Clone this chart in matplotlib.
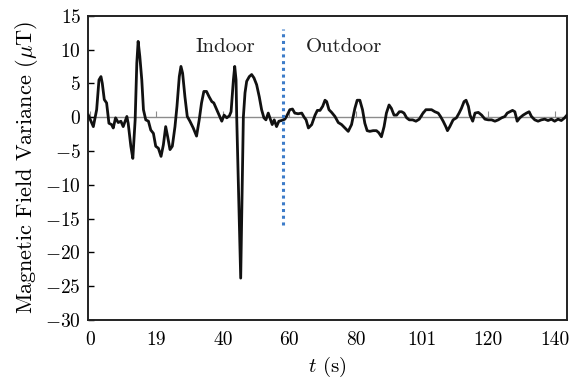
import matplotlib
matplotlib.use("Agg")
import matplotlib.pyplot as plt
import numpy as np

plt.rcParams['font.family'] = ['cmr10', 'DejaVu Serif']
plt.rcParams['mathtext.fontset'] = 'cm'
plt.rcParams['axes.formatter.use_mathtext'] = True
plt.rcParams['axes.unicode_minus'] = True

# time axis positions (evenly spaced tick scale) and field variance (uT)
t_vals = [-0.5, 1.0, 2.0, 2.7, 3.3, 3.7, 4.3, 5.0, 5.7, 6.5, 7.0, 7.7, 8.5, 9.3, 10.0,
          11.1, 11.5, 12.3, 12.9, 13.6, 14.1, 14.5, 15.0, 15.6, 16.1, 16.8, 17.6, 18.3,
          19.1, 19.8, 20.6, 21.4, 22.1, 22.8, 23.4, 24.1, 24.8, 25.6, 26.2, 26.9, 27.4,
          27.9, 28.6, 29.3, 30.1, 31.1, 32.1, 32.9, 33.6, 34.3, 35.1, 35.9, 36.7, 37.3,
          38.2, 38.9, 39.7, 40.4, 41.2, 42.0, 42.5, 43.2, 43.6, 44.0, 44.2, 45.4, 46.2,
          46.7, 47.2, 48.0, 48.7, 49.4, 50.2, 51.0, 51.7, 52.4, 53.0, 53.7, 54.2, 54.9,
          55.5, 56.2, 56.9, 57.7, 58.7, 59.2, 60.2, 61.0, 61.7, 62.7, 63.8, 64.5, 65.1,
          65.8, 66.8, 67.8, 68.5, 69.3, 70.1, 70.8, 71.3, 72.0, 72.8, 73.8, 74.8, 75.8,
          76.8, 77.8, 78.8, 79.8, 80.5, 81.3, 82.1, 82.8, 83.5, 84.3, 85.3, 86.3, 87.0,
          87.8, 88.6, 89.3, 90.1, 90.8, 91.6, 92.4, 93.2, 93.9, 94.6, 95.4, 96.2, 97.2,
          98.2, 99.2, 100.2, 101.2, 102.2, 102.9, 103.9, 104.9, 105.6, 106.4, 107.2, 107.7,
          108.4, 109.4, 110.4, 111.2, 111.9, 112.7, 113.3, 114.0, 114.5, 115.3, 116.0,
          117.0, 118.0, 119.0, 120.0, 121.0, 122.0, 123.0, 124.0, 125.0, 125.7, 126.5,
          127.3, 128.0, 128.7, 129.5, 130.5, 131.5, 132.3, 133.0, 134.0, 135.0, 136.0,
          137.0, 138.0, 139.0, 140.0, 141.0, 142.0, 143.0, 143.7]
b_vals = [0.3, -1.4, 1.1, 5.5, 6.0, 5.0, 2.6, 2.1, -0.9, -1.1, -1.6, -0.1, -0.8, -0.6, -1.4,
          0.1, -0.9, -4.3, -6.1, -0.4, 8.0, 11.2, 9.0, 5.5, 1.1, -0.4, -0.6, -1.9,
          -2.4, -4.3, -4.6, -5.8, -4.1, -1.4, -2.9, -4.8, -4.3, -1.4, 1.6, 6.0, 7.5,
          6.5, 3.0, 0.1, -0.6, -1.6, -2.8, -0.4, 2.1, 3.8, 3.8, 3.0, 2.3, 2.1,
          1.1, 0.3, -0.6, 0.3, -0.1, 0.2, 0.8, 5.5, 7.5, 5.5, 0.0, -23.8, 0.0,
          3.6, 5.3, 6.0, 6.3, 5.8, 4.8, 3.0, 1.1, -0.1, -0.4, 0.6, -0.1, -1.1,
          -0.4, -1.4, -0.6, -0.5, -0.3, 0.1, 1.1, 1.2, 0.6, 0.5, 0.6, 0.0, -0.4,
          -1.6, -1.1, 0.3, 1.0, 1.0, 1.6, 2.5, 2.3, 1.1, 0.7, 0.1, -0.8, -1.1,
          -1.6, -2.1, -1.1, 1.3, 2.5, 2.5, 1.1, -0.9, -2.0, -2.1, -2.0, -2.0, -2.3,
          -2.9, -1.4, 0.6, 1.8, 1.3, 0.3, 0.3, 0.8, 0.8, 0.6, -0.1, -0.4, -0.4,
          -0.6, -0.3, 0.5, 1.1, 1.1, 1.1, 0.8, 0.6, 0.1, -0.6, -1.4, -2.0,
          -1.4, -0.4, -0.1, 0.6, 1.3, 2.3, 2.5, 1.6, 0.3, -0.6, 0.6,
          0.7, 0.3, -0.3, -0.4, -0.4, -0.6, -0.4, -0.1, 0.1, 0.6, 0.8,
          1.0, 0.8, -0.6, -0.1, 0.3, 0.6, 0.8, 0.1, -0.4, -0.6, -0.4,
          -0.3, -0.5, -0.3, -0.6, -0.3, -0.5, -0.1, 0.3]

x_tick_pos = [0, 20, 40, 60, 80, 100, 120, 140]
x_tick_labels = ['0', '19', '40', '60', '80', '101', '120', '140']
y_ticks = [15, 10, 5, 0, -5, -10, -15, -20, -25, -30]
boundary_t = 58.2
boundary_range = (-16, 13)

fig = plt.figure(figsize=(5.81, 3.81), dpi=100)
ax = fig.add_axes([0.1515, 0.160, 0.8249, 0.7988])

ax.axhline(0, color='#8c8c8c', lw=1.0, zorder=1)
ax.plot(t_vals, b_vals, color='#111111', lw=2.0, zorder=3, solid_joinstyle='round')
ax.vlines(boundary_t, boundary_range[0], boundary_range[1], colors='#3d7cc9',
          linestyles=(0, (1, 1.2)), lw=2.2, zorder=4)

ax.text(40.7, 10.4, 'Indoor', ha='center', va='center', fontsize=15, color='#222222')
ax.text(76.5, 10.4, 'Outdoor', ha='center', va='center', fontsize=15, color='#222222')

ax.set_xlim(-0.6, 143.8)
ax.set_ylim(-30, 15)
ax.set_yticks(y_ticks)
ax.set_xticks(x_tick_pos)
ax.set_xticklabels(x_tick_labels)
ax.tick_params(axis='y', direction='in', length=4, width=1, labelsize=14, pad=5)
ax.tick_params(axis='x', length=0, labelsize=14, pad=8)
for s in ax.spines.values():
    s.set_linewidth(1.4)
    s.set_color('#222222')

sec = ax.secondary_xaxis(30 / 45)
sec.set_xticks(x_tick_pos)
sec.set_xticklabels([''] * len(x_tick_pos))
sec.tick_params(axis='x', direction='out', length=4, width=0.8, color='#8c8c8c',
                labelbottom=False, labeltop=False)
for s in sec.spines.values():
    s.set_visible(False)

ax.set_xlabel('$t$ (s)', fontsize=15, labelpad=4)
ax.set_ylabel(r'Magnetic Field Variance ($\mathrm{\mu}$T)', fontsize=16, labelpad=4)

fig.savefig('out.png', dpi=100)
